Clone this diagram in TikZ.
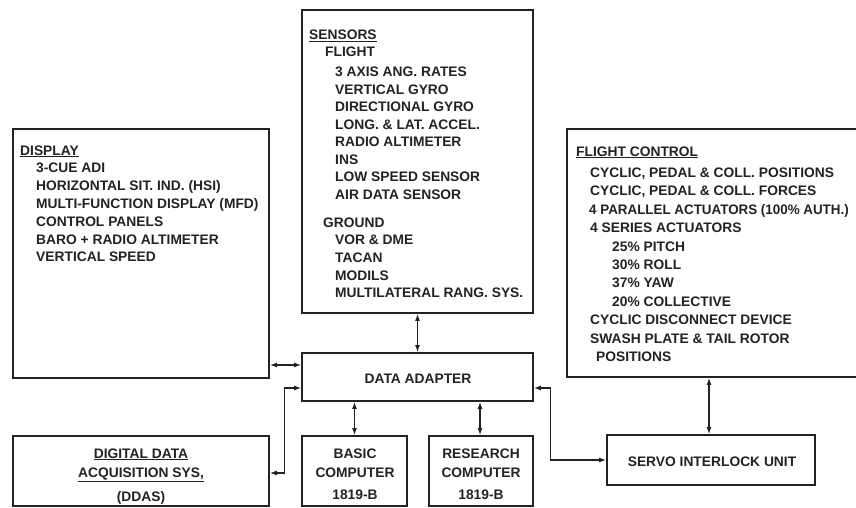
\documentclass[tikz,border=0pt]{standalone}
\usepackage{fontspec}
\usepackage{graphicx}
\setmainfont{Liberation Sans}
\usetikzlibrary{arrows.meta}
\definecolor{ink}{HTML}{222222}
\tikzset{
  box/.style={draw=ink, line width=1.8pt, inner sep=0pt},
  txt/.style={anchor=base west, inner sep=0pt, text=ink, font=\fontsize{13.8}{16}\selectfont\bfseries},
  ctxt/.style={anchor=base, inner sep=0pt, text=ink, font=\fontsize{13.8}{16}\selectfont\bfseries},
  dbl/.style={draw=ink, line width=1.1pt, {Latex[length=7pt,width=5pt]}-{Latex[length=7pt,width=5pt]}},
}
\begin{document}
\begin{tikzpicture}[x=1pt,y=-1pt]
\useasboundingbox (0,0) rectangle (856,508);
\clip (0,0) rectangle (856,508);
% boxes
\node[box, minimum width=256pt, minimum height=249pt] (display) at (141,253.5) {};
\node[box, minimum width=231pt, minimum height=303pt] (sensors) at (417.5,161.5) {};
\node[box, minimum width=303pt, minimum height=248pt] (fc) at (718.5,253) {};
\node[box, minimum width=231pt, minimum height=48pt] (da) at (417.5,377) {};
\node[box, minimum width=256pt, minimum height=70pt] (ddas) at (141,471) {};
\node[box, minimum width=105pt, minimum height=70pt] (basic) at (354.5,471) {};
\node[box, minimum width=104pt, minimum height=70pt] (research) at (481,471) {};
\node[box, minimum width=208pt, minimum height=50pt] (servo) at (711,460) {};
% display text
\node[txt] (dh) at (20,155) {\underline{DISPLAY}};
\foreach \t [count=\i] in {3-CUE ADI, HORIZONTAL SIT. IND. (HSI), MULTI-FUNCTION DISPLAY (MFD), CONTROL PANELS, BARO + RADIO ALTIMETER, VERTICAL SPEED}
  \node[txt] (d\i) at (36,155+17.8*\i) {\t};
% sensors text
\node[txt] (sh) at (309,40) {\underline{SENSORS}};
\node[txt] (sf) at (325,57) {FLIGHT};
\foreach \t [count=\i] in {3 AXIS ANG. RATES, VERTICAL GYRO, DIRECTIONAL GYRO, LONG. \& LAT. ACCEL., RADIO ALTIMETER, INS, LOW SPEED SENSOR, AIR DATA SENSOR}
  \node[txt] (sa\i) at (335,59.5+17.45*\i) {\t};
\node[txt] (sg) at (323,227) {GROUND};
\foreach \t [count=\i] in {VOR \& DME, TACAN, MODILS, MULTILATERAL RANG. SYS.}
  \node[txt] (sb\i) at (335,227+17.7*\i) {\t};
% flight control text
\node[txt] (fh) at (576,156) {\underline{FLIGHT CONTROL}};
\foreach \t/\x [count=\i] in {{CYCLIC, PEDAL \& COLL. POSITIONS}/590, {CYCLIC, PEDAL \& COLL. FORCES}/590, {\scalebox{0.97}[1]{4 PARALLEL ACTUATORS (100\% AUTH.)}}/589, {4 SERIES ACTUATORS}/590, {25\% PITCH}/612, {30\% ROLL}/612, {37\% YAW}/612, {20\% COLLECTIVE}/612, {CYCLIC DISCONNECT DEVICE}/590, {SWASH PLATE \& TAIL ROTOR}/590, {POSITIONS}/596}
  \node[txt] (f\i) at (\x,159.1+18.4*\i) {\t};
% small boxes text
\node[ctxt] (dat) at (418,383) {DATA ADAPTER};
\node[ctxt] (dd1) at (141,458) {\underline{DIGITAL DATA}};
\node[ctxt] (dd2) at (141,477) {\underline{ACQUISITION SYS,}};
\node[ctxt] (dd3) at (141,501) {(DDAS)};
\node[ctxt] (b1) at (355,458) {BASIC};
\node[ctxt] (b2) at (355,477) {COMPUTER};
\node[ctxt] (b3) at (355,499) {1819-B};
\node[ctxt] (r1) at (481,458) {RESEARCH};
\node[ctxt] (r2) at (481,477) {COMPUTER};
\node[ctxt] (r3) at (481,499) {1819-B};
\node[ctxt] (st) at (712,466) {SERVO INTERLOCK UNIT};
% connectors
\draw[dbl] (sensors.south) -- (da.north);
\draw[dbl] ([yshift=12pt]da.west -| display.east) -- ([yshift=12pt]da.west);
\draw[dbl] ([yshift=-2pt]ddas.east) -| ([xshift=-17pt,yshift=-11pt]da.west) -- ([yshift=-11pt]da.west);
\draw[dbl] (basic.north) -- (basic.north |- da.south);
\draw[dbl] ([xshift=-1pt]research.north) -- ([xshift=-1pt]research.north |- da.south);
\draw[dbl] ([yshift=-11pt]da.east) -| ([xshift=-56pt]servo.west) -- (servo.west);
\draw[dbl] ([xshift=-2pt]servo.north) -- ([xshift=-2pt]servo.north |- fc.south);
\end{tikzpicture}
\end{document}
